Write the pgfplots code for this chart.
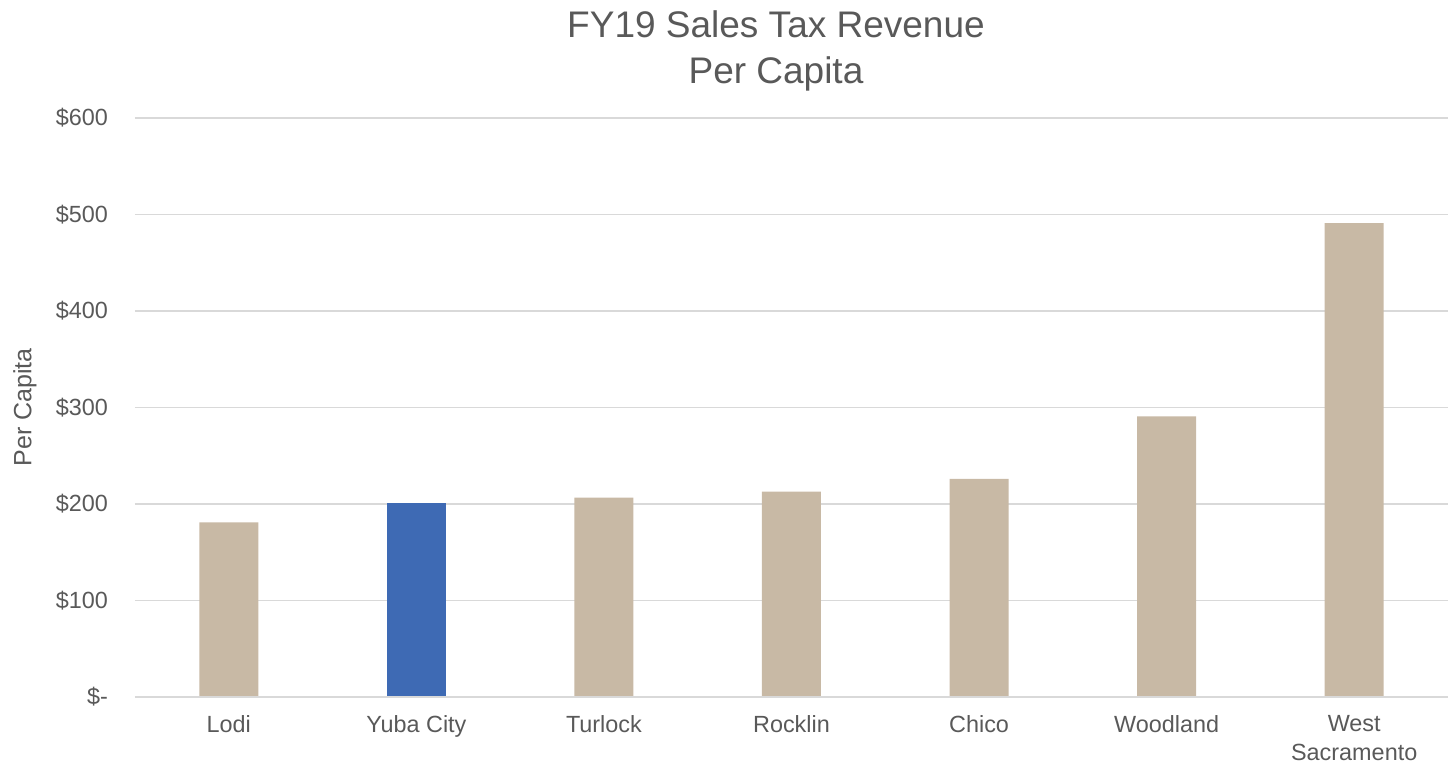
\documentclass[border=0pt]{standalone}
\usepackage{pgfplots}
\pgfplotsset{compat=1.18}
\usepackage{fontspec}
\setmainfont{Liberation Sans}
\definecolor{tan}{RGB}{200,185,165}
\definecolor{bblue}{RGB}{62,106,180}
\definecolor{txt}{RGB}{89,89,89}
\definecolor{grd}{RGB}{217,217,217}
\begin{document}
\begin{tikzpicture}
\useasboundingbox (-67.5pt,-35pt) rectangle (656.5pt,348.5pt);
\begin{axis}[
  scale only axis,
  width=656.5pt, height=289.5pt,
  xmin=-0.5, xmax=6.5,
  ymin=0, ymax=600,
  axis line style={draw=none},
  ybar, bar width=29.5pt, bar shift=0pt,
  xtick={0,1,2,3,4,5,6},
  xticklabels={Lodi,Yuba City,Turlock,Rocklin,Chico,Woodland,{West\\Sacramento}},
  xticklabel style={align=center, font=\fontsize{11.7}{14.5}\selectfont, text=txt, yshift=-5.5pt},
  ytick={0,100,200,300,400,500,600},
  yticklabels={\$-,\$100,\$200,\$300,\$400,\$500,\$600},
  yticklabel style={font=\fontsize{11.7}{14}\selectfont, text=txt, xshift=-10pt},
  major tick length=0pt,
  tick style={draw=none},
  ymajorgrids, grid style={grd, line width=0.8pt},
  ylabel={Per Capita},
  every axis y label/.style={at={(axis description cs:0,0.5)}, xshift=-55pt, rotate=90, anchor=center, font=\fontsize{12.5}{15}\selectfont, text=txt},
  clip=false,
]
\addplot[fill=tan, draw=none] coordinates {(0,181) (2,206.5) (3,212.7) (4,226) (5,290.7) (6,491)};
\addplot[fill=bblue, draw=none] coordinates {(1,201)};
\draw[grd, line width=0.8pt] (axis cs:-0.5,0) -- (axis cs:6.5,0);
\end{axis}
\node[align=center, font=\fontsize{18.5}{23}\selectfont, text=txt] at (320.5pt,323pt) {FY19 Sales Tax Revenue\\Per Capita};
\end{tikzpicture}
\end{document}
